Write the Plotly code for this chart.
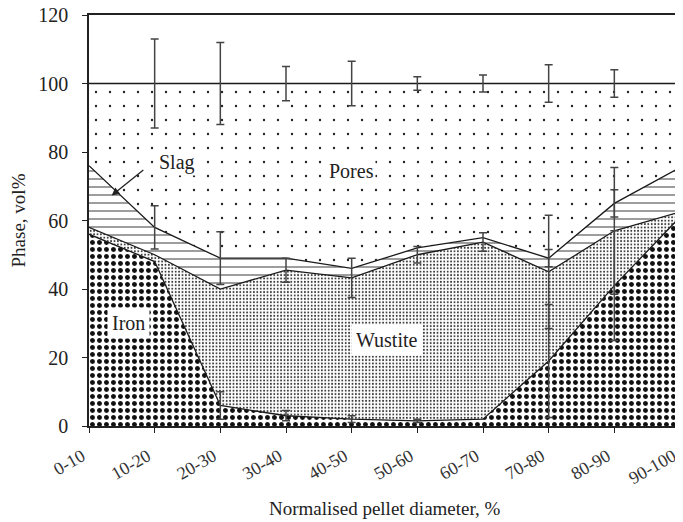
import numpy as np
import plotly.graph_objects as go

# phase composition per pellet shell, vol%
cats = ['0-10', '10-20', '20-30', '30-40', '40-50', '50-60', '60-70', '70-80', '80-90', '90-100']
iron = [56, 48, 6, 3, 2, 1.5, 2, 19, 41, 61]
wustite = [2, 2, 34, 42.5, 41.25, 48.5, 51.7, 26, 16, 1.5]
slag = [18, 8, 9, 3.5, 2.75, 2, 1.3, 4, 8, 13]
pores = [24, 42, 51, 51, 54, 48, 45, 51, 35, 24.5]

# error bars (+/-) on each cumulative boundary, None = no bar
iron_err = [None, None, 4, 1.5, 1, 0.5, None, 16.5, 16, None]
wustite_err = [None, None, None, 3.5, 5.75, 2.4, 2.7, 16.5, 18.5, None]
slag_err = [None, 6.3, 7.7, None, None, None, None, 2.5, 4, None]
pores_err = [None, 13, 12, 5, 6.5, 2, 2.5, 5.5, 4, 4]

x = np.arange(len(cats))
stack = np.cumsum(np.array([iron, wustite, slag, pores]), axis=0)

FONT = 'Liberation Serif'
fig = go.Figure()

patterns = [
    dict(shape='.', size=7, solidity=0.4, fgcolor='#111', bgcolor='white', fillmode='replace'),
    dict(shape='.', size=3.4, solidity=0.25, fgcolor='#333', bgcolor='white', fillmode='replace'),
    dict(shape='-', size=8, solidity=0.16, fgcolor='#666', bgcolor='white', fillmode='replace'),
    dict(shape='.', size=14, solidity=0.022, fgcolor='#222', bgcolor='white', fillmode='replace'),
]
names = ['Iron', 'Wustite', 'Slag', 'Pores']
for i in range(4):
    fig.add_trace(go.Scatter(
        x=x, y=stack[i], mode='lines', name=names[i],
        line=dict(color='#1a1a1a', width=1.3),
        fill='tozeroy' if i == 0 else 'tonexty',
        fillpattern=patterns[i],
    ))

# error bars drawn on the boundaries
for base, err in zip(stack, [iron_err, wustite_err, slag_err, pores_err]):
    idx = [k for k, e in enumerate(err) if e is not None]
    fig.add_trace(go.Scatter(
        x=x[idx], y=base[idx], mode='markers',
        marker=dict(size=0.1, color='rgba(0,0,0,0)'),
        error_y=dict(type='data', array=[err[k] for k in idx], symmetric=True,
                     color='#444', thickness=1.5, width=4),
    ))

# region labels
fig.add_annotation(x=1.335, y=76.8, text='Slag', showarrow=False,
                   font=dict(family=FONT, size=20, color='#222'), bgcolor='white')
fig.add_annotation(x=0.345, y=67.3, ax=0.85, ay=75.1, axref='x', ayref='y',
                   text='', showarrow=True, arrowhead=2, arrowsize=1.2,
                   arrowwidth=1.3, arrowcolor='#222')
fig.add_annotation(x=3.99, y=74.4, text='Pores', showarrow=False,
                   font=dict(family=FONT, size=20, color='#222'), bgcolor='white')
fig.add_annotation(x=0.6, y=30, text='Iron', showarrow=False,
                   font=dict(family=FONT, size=20, color='#222'), bgcolor='white', borderpad=4)
fig.add_annotation(x=4.545, y=25.1, text='Wustite', showarrow=False,
                   font=dict(family=FONT, size=20, color='#222'), bgcolor='white', borderpad=4)

# x-axis title placed by hand, below the rotated labels
fig.add_annotation(x=0.5, y=0, xref='paper', yref='paper', yshift=-82,
                   text='Normalised pellet diameter, %', showarrow=False,
                   yanchor='middle', font=dict(family=FONT, size=19, color='#222'))

# the page body adds an 8px offset, so the figure is sized/margined for it
fig.update_layout(
    width=675, height=514,
    margin=dict(l=81, r=3, t=7, b=96),
    plot_bgcolor='white', paper_bgcolor='white',
    showlegend=False,
    font=dict(family=FONT, size=20, color='#222'),
)
fig.update_xaxes(
    range=[0, 9], tickmode='array', tickvals=x, ticktext=cats, tickangle=-30,
    ticks='outside', ticklen=5, tickcolor='#222', ticklabelstandoff=6,
    ticklabelshift=-7, ticklabeloverflow='allow', automargin=False,
    showline=True, linecolor='#222', linewidth=1.5, mirror=True, showgrid=False,
    tickfont=dict(family=FONT, size=18, color='#333'),
)
fig.update_yaxes(
    range=[0, 120], tickvals=list(range(0, 121, 20)),
    ticks='outside', ticklen=5, tickcolor='#222', ticklabelstandoff=10,
    ticklabeloverflow='allow', automargin=False,
    showline=True, linecolor='#222', linewidth=1.5, mirror=True, showgrid=False,
    zeroline=False,
    tickfont=dict(family=FONT, size=20, color='#222'),
    title=dict(text='Phase, vol%', standoff=8,
               font=dict(family=FONT, size=19, color='#222')),
)

fig.write_html("out.html")
